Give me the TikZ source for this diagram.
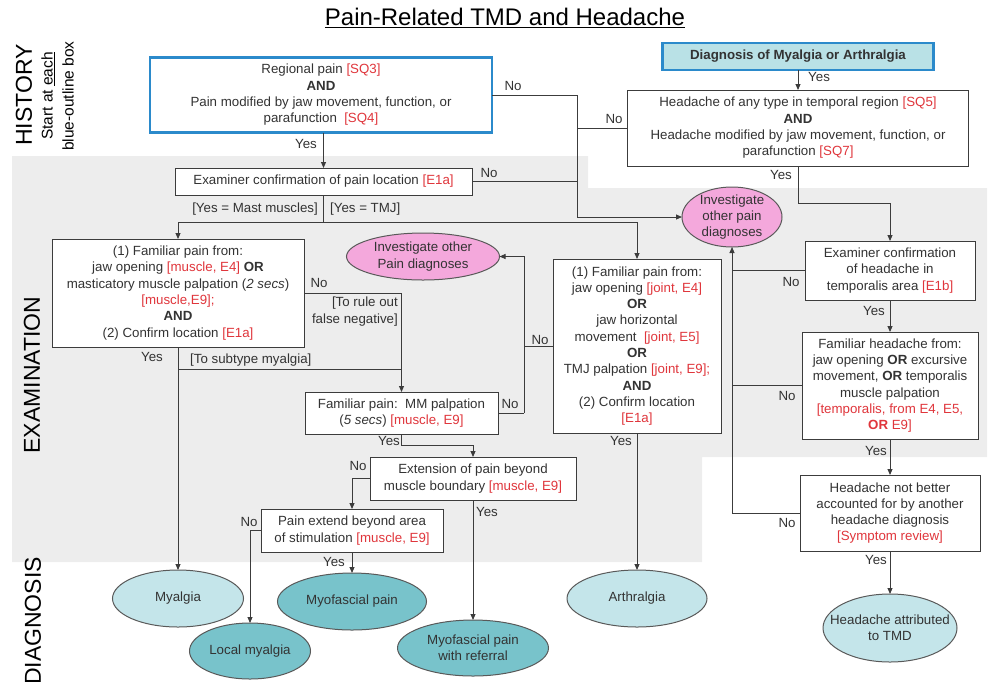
\documentclass[tikz,border=0pt]{standalone}
\usepackage{fontspec}
\setmainfont{Liberation Sans}
\usetikzlibrary{arrows.meta,shapes.geometric}

\definecolor{ink}{HTML}{333333}
\definecolor{wire}{HTML}{3C3C3C}
\definecolor{refred}{HTML}{E0363C}
\definecolor{histblue}{HTML}{2B8ACB}
\definecolor{pinkfill}{HTML}{F4A8DC}
\definecolor{lightteal}{HTML}{C4E5EA}
\definecolor{darkteal}{HTML}{78C3CB}
\definecolor{panel}{HTML}{EDEDED}
\definecolor{headfill}{HTML}{B9E1E6}

\newcommand{\rf}[1]{\textcolor{refred}{#1}}
\newcommand{\bodyfont}{\fontsize{13.3}{16.3}\selectfont}

\tikzset{
  box/.style={draw=wire, line width=1pt, fill=white, inner sep=0pt, outer sep=0pt,
              align=center, text=ink, font=\bodyfont},
  bluebox/.style={box, draw=histblue, line width=2.8pt},
  oval/.style={ellipse, draw=wire!85, line width=1pt, inner sep=0pt, outer sep=0pt},
  ovaltext/.style={align=center, text=ink, inner sep=0pt, font=\bodyfont},
  lbl/.style={text=ink, inner sep=0pt, font=\bodyfont},
  conn/.style={draw=wire, line width=0.9pt},
  arr/.style={conn, -{Triangle[length=6pt,width=5pt]}},
  phase/.style={rotate=90, text=black, inner sep=0pt, font=\fontsize{23}{26}\selectfont}
}

\begin{document}
\begin{tikzpicture}[x=1pt,y=-1pt]
\useasboundingbox (0,0) rectangle (990,681);

% grey examination band
\fill[panel] (12,156) -- (588,156) -- (588,188) -- (987,188) -- (987,457)
  -- (702,457) -- (702,562) -- (12,562) -- cycle;

% title and phase labels
\node[text=black, inner sep=0pt] (title) at (505,18)
  {\fontsize{24}{28}\selectfont\underline{Pain-Related TMD and Headache}};
\node[phase] (history) at (24,95) {HISTORY};
\node[rotate=90, align=center, text=black, inner sep=0pt,
      font=\fontsize{15.5}{21}\selectfont] (histnote) at (57.5,96)
  {Start at \underline{each}\\blue-outline box};
\node[phase] (exam) at (32,375) {EXAMINATION};
\node[phase] (diag) at (33,621) {DIAGNOSIS};

% history boxes
\node[bluebox, minimum width=342, minimum height=75] (regional) at (321,95)
  {Regional pain \rf{[SQ3]}\\\textbf{AND}\\Pain modified by jaw movement, function, or\\parafunction\ \ \rf{[SQ4]}};
\node[bluebox, fill=headfill, minimum width=271, minimum height=27] (dxma) at (798,56.5)
  {\textbf{Diagnosis of Myalgia or Arthralgia}};
\node[box, minimum width=341, minimum height=76] (headache) at (798,128)
  {Headache of any type in temporal region \rf{[SQ5]}\\\textbf{AND}\\Headache modified by jaw movement, function, or\\parafunction \rf{[SQ7]}};

% examination boxes
\node[box, minimum width=297, minimum height=27] (exconf) at (323.5,181.5)
  {Examiner confirmation of pain location \rf{[E1a]}};
\node[oval, fill=pinkfill, minimum width=100, minimum height=60] (pinkR) at (732,217) {};
\node[ovaltext] (pinkRtext) at (pinkR) {Investigate\\other pain\\diagnoses};
\node[oval, fill=pinkfill, minimum width=153, minimum height=47] (pinkL) at (423,256.5) {};
\node[ovaltext] (pinkLtext) at (pinkL) {Investigate other\\Pain diagnoses};
\node[box, minimum width=252, minimum height=108] (muscle) at (178,293)
  {(1) Familiar pain from:\\jaw opening \rf{[muscle, E4]} \textbf{OR}\\masticatory muscle palpation (\textit{2 secs})\\\rf{[muscle,E9];}\\\textbf{AND}\\(2) Confirm location \rf{[E1a]}};
\node[box, minimum width=168, minimum height=174] (joint) at (637,346)
  {(1) Familiar pain from:\\jaw opening \rf{[joint, E4]}\\\textbf{OR}\\jaw horizontal\\movement\ \ \rf{[joint, E5]}\\\textbf{OR}\\TMJ palpation \rf{[joint, E9];}\\\textbf{AND}\\(2) Confirm location\\\rf{[E1a]}};
\node[box, minimum width=193, minimum height=42] (mm) at (401.5,413)
  {Familiar pain:\ \ MM palpation\\(\textit{5 secs}) \rf{[muscle, E9]}};
\node[box, minimum width=206, minimum height=43] (ext) at (473,478.5)
  {Extension of pain beyond\\muscle boundary \rf{[muscle, E9]}};
\node[box, minimum width=182, minimum height=43] (beyond) at (352,530.5)
  {Pain extend beyond area\\of stimulation \rf{[muscle, E9]}};
\node[box, minimum width=170, minimum height=59] (exthead) at (890,270.5)
  {Examiner confirmation\\of headache in\\temporalis area \rf{[E1b]}};
\node[box, minimum width=176, minimum height=107] (famhead) at (890,385.5)
  {Familiar headache from:\\jaw opening \textbf{OR} excursive\\movement, \textbf{OR} temporalis\\muscle palpation\\\rf{[temporalis, from E4, E5,}\\\rf{\textbf{OR} E9]}};
\node[box, minimum width=180, minimum height=76] (notbetter) at (890,513)
  {Headache not better\\accounted for by another\\headache diagnosis\\\rf{[Symptom review]}};

% diagnoses
\node[oval, fill=lightteal, minimum width=131, minimum height=57] (myalgia) at (178,598.5) {};
\node[ovaltext] (myalgiatext) at (myalgia) {Myalgia};
\node[oval, fill=darkteal, minimum width=149, minimum height=57] (myofascial) at (352,601.5) {};
\node[ovaltext] (myofascialtext) at (myofascial) {Myofascial pain};
\node[oval, fill=darkteal, minimum width=121, minimum height=56] (localmy) at (250,651) {};
\node[ovaltext] (localmytext) at (localmy) {Local myalgia};
\node[oval, fill=darkteal, minimum width=151, minimum height=56] (referral) at (473,648) {};
\node[ovaltext] (referraltext) at (referral) {Myofascial pain\\with referral};
\node[oval, fill=lightteal, minimum width=140, minimum height=57] (arthralgia) at (637,598.5) {};
\node[ovaltext] (arthralgiatext) at (arthralgia) {Arthralgia};
\node[oval, fill=lightteal, minimum width=134, minimum height=68] (tmdhead) at (890,628) {};
\node[ovaltext] (tmdheadtext) at (tmdhead) {Headache attributed\\to TMD};

% junction points
\coordinate (trunk) at (577,95);
\coordinate (split) at (323.5,222);
\coordinate (hsplit) at (798,203);
\coordinate (back) at (524,413);
\coordinate (sub) at (178,369);

% history flow
\draw[arr] (regional.south -| exconf.north) -- (exconf.north);
\draw[conn] (regional.east) -- (trunk);
\draw[conn] (headache.west) -- (headache.west -| trunk);
\draw[conn] (exconf.east) -- (exconf.east -| trunk);
\draw[arr] (trunk) |- (pinkR.west);
\draw[arr] (dxma.south) -- (headache.north);
\draw[arr] (headache.south) -- (hsplit) -| (exthead.north);

% muscle / joint branches
\draw[conn] (exconf.south) -- (split);
\draw[arr] (split) -| (muscle.north);
\draw[arr] (split) -| (joint.north);
\draw[arr] (muscle.east) -| (mm.north);
\draw[arr] (muscle.south) -- (myalgia.north);
\draw[conn] (sub) -- (sub -| mm.north);
\draw[conn] (mm.east) -- (back);
\draw[conn] (joint.west) -- (joint.west -| back);
\draw[arr] (back) |- (pinkL.east);
\draw[arr] (mm.south) -- ++(0,11) -| (ext.north);
\draw[arr] (ext.west) -| (beyond.north);
\draw[arr] (ext.south) -- (referral.north);
\draw[arr] (beyond.west) -| (localmy.north);
\draw[arr] (beyond.south) -- (myofascial.north);
\draw[arr] (joint.south) -- (arthralgia.north);

% headache branch
\draw[arr] (exthead.south) -- (famhead.north);
\draw[arr] (famhead.south) -- (notbetter.north);
\draw[arr] (notbetter.south) -- (tmdhead.north);
\draw[conn] (exthead.west) -- (exthead.west -| pinkR.south);
\draw[conn] (famhead.west) -- (famhead.west -| pinkR.south);
\draw[arr] (notbetter.west) -| (pinkR.south);

% connector labels
\node[lbl] (l1) at (306,144) {Yes};
\node[lbl] (l2) at (513,86) {No};
\node[lbl] (l3) at (614,119) {No};
\node[lbl] (l4) at (489,173) {No};
\node[lbl, anchor=west] (l5) at (808,77) {Yes};
\node[lbl] (l6) at (781,175) {Yes};
\node[lbl, anchor=east] (l7) at (318,209) {[Yes = Mast muscles]};
\node[lbl, anchor=west] (l8) at (330,209) {[Yes = TMJ]};
\node[lbl] (l9) at (319,283) {No};
\node[lbl, align=right, anchor=east] (l10) at (398,311.5) {[To rule out\\false negative]};
\node[lbl] (l11) at (152,357) {Yes};
\node[lbl, anchor=west] (l12) at (190,360) {[To subtype myalgia]};
\node[lbl] (l13) at (510,404) {No};
\node[lbl] (l14) at (540,340) {No};
\node[lbl] (l15) at (389,441) {Yes};
\node[lbl] (l16) at (358,466) {No};
\node[lbl] (l17) at (487,512) {Yes};
\node[lbl] (l18) at (249,522) {No};
\node[lbl] (l19) at (334,562) {Yes};
\node[lbl] (l20) at (621,441) {Yes};
\node[lbl] (l21) at (791,282) {No};
\node[lbl] (l22) at (874,311) {Yes};
\node[lbl] (l23) at (787,396) {No};
\node[lbl] (l24) at (876,451) {Yes};
\node[lbl] (l25) at (787,523) {No};
\node[lbl] (l26) at (876,560) {Yes};
\end{tikzpicture}
\end{document}
